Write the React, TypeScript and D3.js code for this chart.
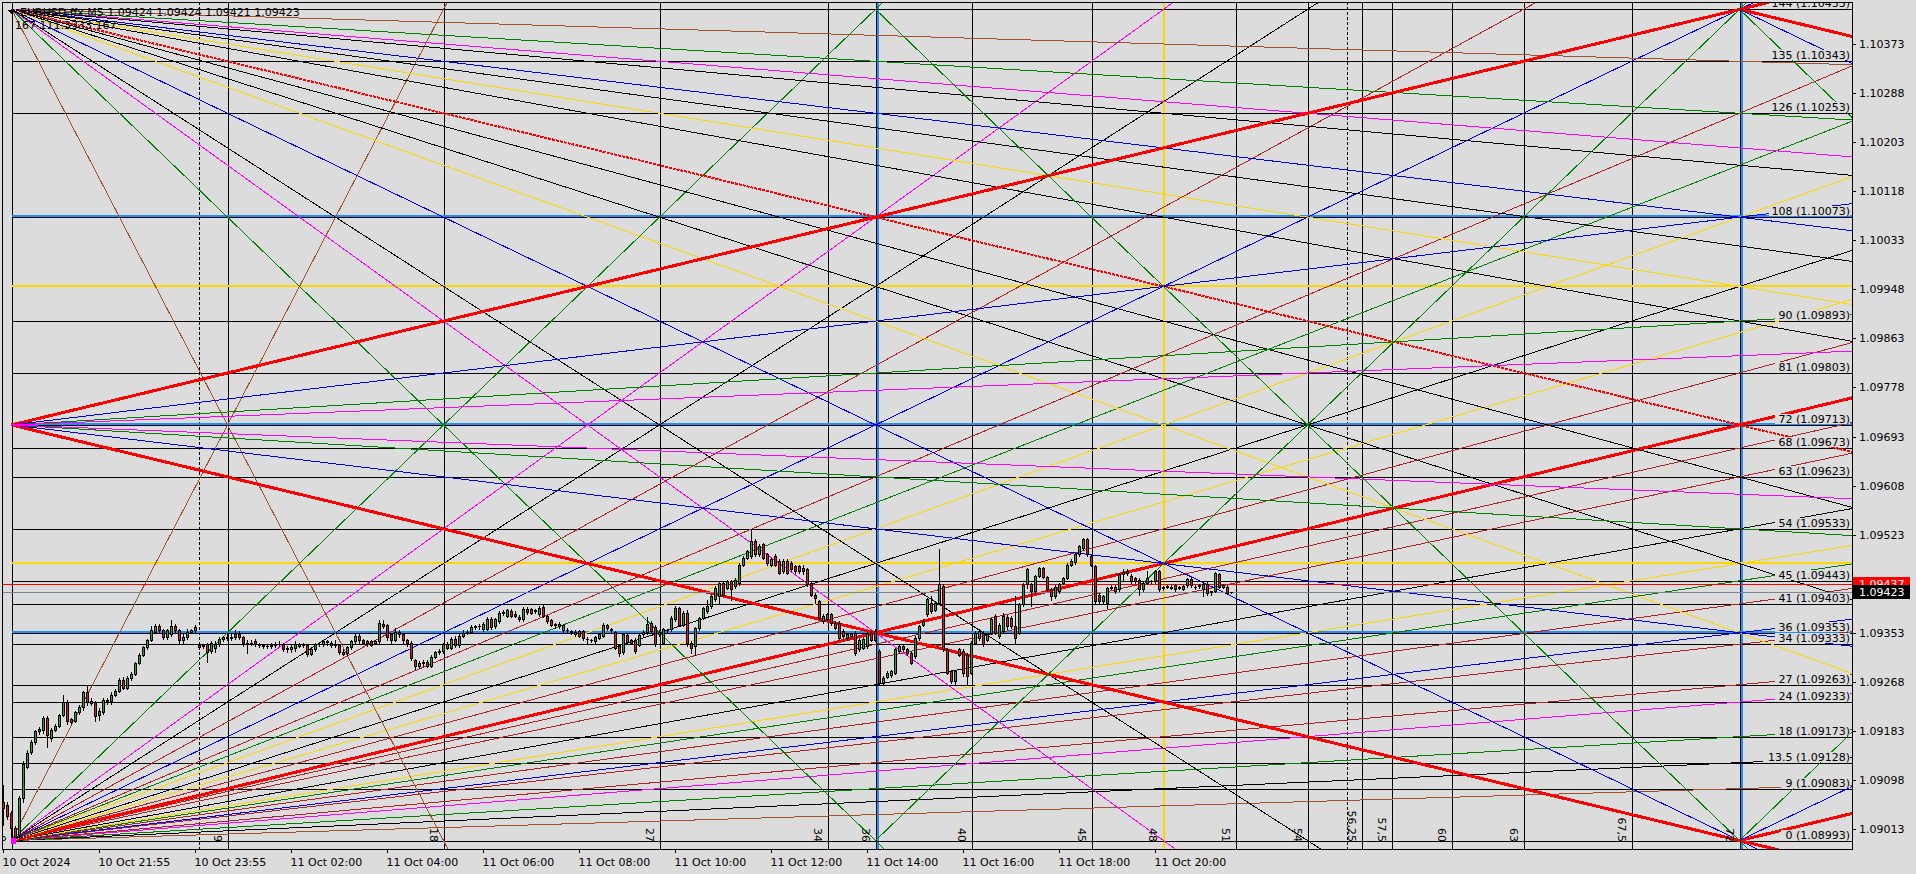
import { useEffect } from "react";
import * as d3 from "d3";

// ---------- chart data ----------
const symbolTitle = "EURUSD.ffx,M5  1.09424 1.09424 1.09421 1.09423";
const subTitle = "167  111.3333  167";
const bidPrice = 1.09423;
const askPrice = 1.09437;

const priceTicks = [
  1.10373, 1.10288, 1.10203, 1.10118, 1.10033, 1.09948, 1.09863, 1.09778,
  1.09693, 1.09608, 1.09523, 1.09353, 1.09268, 1.09183, 1.09098, 1.09013,
];

const timeTickLabels = [
  "10 Oct 2024", "10 Oct 21:55", "10 Oct 23:55", "11 Oct 02:00", "11 Oct 04:00",
  "11 Oct 06:00", "11 Oct 08:00", "11 Oct 10:00", "11 Oct 12:00", "11 Oct 14:00",
  "11 Oct 16:00", "11 Oct 18:00", "11 Oct 20:00",
];
const timeTickBars = [0, 24, 48, 72, 96, 120, 144, 168, 192, 216, 240, 264, 288];
const daySeparatorBars = [49, 336];

// gann grid: level n = base + n * step, time in grid units
const gannBase = 1.08993;
const gannStep = 0.0001;
const gannLevels = [0, 9, 13.5, 18, 24, 27, 34, 36, 41, 45, 54, 63, 68, 72, 81, 90, 108, 126, 135, 144];
const blueLevels = [36, 72, 108];
const goldLevels = [48, 96];
const gannTimes = [0, 9, 18, 27, 34, 36, 40, 45, 48, 51, 54, 56.25, 57.5, 60, 63, 67.5, 72];
const gannTimeLabels = ["0", "9", "18", "27", "34", "36", "40", "45", "48", "51", "54", "56,25", "57,5", "60", "63", "67,5", "72"];
const blueTimes = [36, 72];
const goldTimes = [48];

// fan from the bottom-left corner
const fanLevelTargets = [9, 13.5, 18, 24, 27, 34, 36, 41, 45, 48, 54, 63, 68, 72, 81, 88, 96, 108, 117, 126];
const fanLevelColors = [
  "sienna", "black", "green", "magenta", "firebrick", "firebrick", "blue", "firebrick", "green", "gold",
  "black", "firebrick", "firebrick", "red", "firebrick", "gold", "black", "gold", "green", "firebrick",
];
const fanTimeTargets = [18, 36, 48, 54, 63, 72];
const fanTimeColors = ["sienna", "green", "magenta", "black", "firebrick", "blue"];
// fan from the top-left corner (drop below the top level)
const topFanDrops = [9, 18, 24, 27, 36, 41, 48, 54, 72, 81, 96, 108];
const topFanColors = ["sienna", "green", "magenta", "black", "blue", "black", "gold", "black", "red", "black", "black", "gold"];
const topFanTimeTargets = [18, 36, 48, 54, 72];
const topFanTimeColors = ["sienna", "green", "magenta", "black", "blue"];
// fan from the middle of the left edge
const midOffsets = [72, 36, 18, 12];
const midColors = ["red", "blue", "green", "magenta"];
// angles leaving the right corners (levels per time unit)
const cornerRates = [1, 2, 4];
const cornerColors = ["red", "blue", "green"];

// candles, in points above 1.08000
const opens = [
  1060, 1055, 1040, 1015, 1003, 1067, 1121, 1147, 1163, 1182, 1185, 1205, 1170, 1185, 1192, 1210, 1233, 1203, 1200, 1215,
  1224, 1250, 1232, 1233, 1210, 1215, 1237, 1234, 1245, 1252, 1272, 1258, 1275, 1282, 1300, 1315, 1328, 1340, 1355, 1365,
  1358, 1345, 1350, 1365, 1357, 1340, 1345, 1355, 1357, 1332, 1330, 1333, 1322, 1326, 1334, 1343, 1345, 1344, 1346, 1350,
  1346, 1335, 1336, 1338, 1333, 1331, 1330, 1330, 1331, 1333, 1334, 1326, 1324, 1326, 1330, 1332, 1331, 1316, 1325, 1334,
  1334, 1338, 1336, 1332, 1332, 1320, 1318, 1328, 1338, 1348, 1340, 1338, 1338, 1336, 1338, 1368, 1366, 1350, 1340, 1355,
  1350, 1340, 1336, 1306, 1296, 1300, 1302, 1296, 1311, 1319, 1321, 1333, 1327, 1342, 1331, 1348, 1353, 1355, 1363, 1364,
  1359, 1360, 1377, 1364, 1373, 1387, 1382, 1391, 1385, 1380, 1376, 1394, 1394, 1390, 1385, 1398, 1382, 1375, 1368, 1369,
  1358, 1358, 1356, 1355, 1356, 1356, 1343, 1341, 1338, 1344, 1347, 1366, 1360, 1354, 1330, 1319, 1349, 1340, 1341, 1332,
  1350, 1354, 1370, 1363, 1350, 1335, 1357, 1359, 1376, 1396, 1367, 1388, 1335, 1330, 1361, 1379, 1391, 1399, 1411, 1416,
  1439, 1431, 1442, 1434, 1439, 1471, 1483, 1486, 1512, 1489, 1506, 1489, 1471, 1486, 1477, 1460, 1477, 1474, 1468, 1468,
  1466, 1463, 1439, 1419, 1408, 1373, 1376, 1385, 1370, 1370, 1356, 1344, 1347, 1353, 1324, 1327, 1330, 1353, 1356, 1321,
  1266, 1277, 1280, 1284, 1321, 1330, 1324, 1318, 1313, 1344, 1367, 1385, 1405, 1393, 1405, 1434, 1324, 1286, 1269, 1324,
  1321, 1315, 1284, 1335, 1344, 1353, 1341, 1353, 1382, 1347, 1356, 1380, 1379, 1364, 1353, 1402, 1437, 1437, 1425, 1451,
  1465, 1450, 1428, 1416, 1425, 1440, 1448, 1471, 1475, 1489, 1500, 1515, 1486, 1468, 1419, 1408, 1405, 1431, 1433, 1428,
  1454, 1460, 1452, 1448, 1445, 1428, 1439, 1442, 1442, 1460, 1432, 1432, 1433, 1435, 1431, 1429, 1435, 1446, 1432, 1434,
  1428, 1438, 1425, 1425, 1454, 1433, 1433, 1423,
];
const highs = [
  1090, 1060, 1045, 1018, 1070, 1130, 1150, 1168, 1185, 1190, 1208, 1208, 1188, 1195, 1212, 1245, 1236, 1205, 1218, 1227,
  1252, 1260, 1240, 1235, 1222, 1240, 1240, 1250, 1255, 1275, 1276, 1278, 1285, 1302, 1318, 1330, 1342, 1365, 1368, 1368,
  1360, 1360, 1375, 1368, 1360, 1352, 1360, 1360, 1366, 1335, 1334, 1335, 1338, 1338, 1346, 1348, 1350, 1350, 1358, 1356,
  1348, 1340, 1340, 1342, 1336, 1334, 1333, 1335, 1337, 1338, 1336, 1330, 1332, 1338, 1336, 1335, 1334, 1328, 1336, 1337,
  1340, 1340, 1338, 1340, 1334, 1324, 1330, 1340, 1352, 1352, 1343, 1340, 1341, 1341, 1375, 1375, 1368, 1353, 1362, 1358,
  1352, 1342, 1338, 1308, 1304, 1306, 1305, 1314, 1322, 1325, 1336, 1337, 1345, 1348, 1350, 1357, 1358, 1366, 1367, 1368,
  1372, 1380, 1380, 1378, 1390, 1392, 1395, 1394, 1390, 1383, 1397, 1398, 1396, 1394, 1400, 1402, 1384, 1377, 1370, 1371,
  1368, 1361, 1358, 1357, 1358, 1358, 1345, 1343, 1348, 1352, 1370, 1368, 1362, 1356, 1332, 1353, 1352, 1343, 1344, 1352,
  1357, 1380, 1373, 1366, 1357, 1362, 1360, 1382, 1400, 1398, 1390, 1393, 1338, 1363, 1381, 1398, 1410, 1418, 1434, 1441,
  1441, 1445, 1445, 1447, 1473, 1486, 1497, 1532, 1515, 1506, 1509, 1492, 1483, 1489, 1480, 1480, 1480, 1477, 1471, 1471,
  1470, 1466, 1442, 1422, 1410, 1385, 1388, 1388, 1373, 1373, 1359, 1353, 1353, 1356, 1344, 1345, 1356, 1356, 1359, 1324,
  1278, 1286, 1289, 1327, 1333, 1333, 1327, 1321, 1347, 1367, 1376, 1414, 1416, 1408, 1498, 1437, 1327, 1289, 1289, 1327,
  1324, 1318, 1338, 1356, 1359, 1356, 1353, 1379, 1385, 1370, 1388, 1384, 1382, 1416, 1405, 1440, 1466, 1440, 1453, 1467,
  1467, 1452, 1430, 1436, 1440, 1450, 1473, 1480, 1491, 1505, 1517, 1518, 1488, 1470, 1421, 1418, 1433, 1436, 1436, 1456,
  1463, 1463, 1455, 1450, 1447, 1441, 1460, 1445, 1462, 1462, 1434, 1436, 1435, 1437, 1434, 1436, 1448, 1448, 1435, 1437,
  1441, 1441, 1426, 1458, 1456, 1437, 1435, 1424,
];
const lows = [
  1020, 1030, 1000, 995, 998, 1060, 1118, 1143, 1160, 1178, 1180, 1155, 1165, 1182, 1190, 1208, 1195, 1195, 1198, 1212,
  1220, 1228, 1228, 1200, 1202, 1212, 1230, 1230, 1243, 1250, 1255, 1255, 1272, 1280, 1298, 1312, 1325, 1338, 1352, 1355,
  1342, 1342, 1348, 1352, 1336, 1335, 1342, 1352, 1355, 1325, 1326, 1303, 1318, 1320, 1330, 1338, 1340, 1340, 1342, 1343,
  1330, 1318, 1332, 1330, 1328, 1327, 1326, 1327, 1329, 1330, 1322, 1320, 1320, 1322, 1328, 1328, 1312, 1314, 1322, 1330,
  1330, 1332, 1328, 1329, 1317, 1314, 1315, 1325, 1336, 1336, 1333, 1330, 1330, 1333, 1335, 1362, 1340, 1335, 1338, 1346,
  1336, 1330, 1305, 1290, 1292, 1296, 1293, 1294, 1309, 1317, 1318, 1324, 1325, 1328, 1329, 1345, 1350, 1352, 1360, 1360,
  1356, 1358, 1360, 1361, 1370, 1384, 1380, 1380, 1380, 1374, 1374, 1386, 1386, 1387, 1382, 1380, 1370, 1364, 1362, 1362,
  1355, 1354, 1350, 1347, 1345, 1341, 1335, 1337, 1335, 1342, 1345, 1358, 1353, 1325, 1312, 1316, 1334, 1333, 1318, 1330,
  1347, 1351, 1353, 1330, 1348, 1333, 1354, 1356, 1373, 1364, 1364, 1330, 1318, 1315, 1358, 1376, 1388, 1396, 1408, 1405,
  1416, 1428, 1410, 1431, 1436, 1469, 1480, 1483, 1486, 1486, 1480, 1471, 1468, 1468, 1454, 1457, 1454, 1460, 1457, 1457,
  1455, 1434, 1416, 1405, 1376, 1370, 1373, 1367, 1359, 1341, 1344, 1341, 1344, 1315, 1321, 1324, 1327, 1338, 1338, 1263,
  1263, 1274, 1277, 1281, 1318, 1321, 1315, 1298, 1310, 1341, 1364, 1382, 1388, 1390, 1402, 1321, 1281, 1266, 1263, 1312,
  1278, 1263, 1281, 1333, 1341, 1330, 1338, 1350, 1350, 1344, 1353, 1360, 1362, 1333, 1350, 1400, 1430, 1400, 1422, 1449,
  1447, 1425, 1410, 1413, 1422, 1438, 1446, 1468, 1472, 1486, 1497, 1486, 1468, 1405, 1405, 1405, 1396, 1428, 1422, 1425,
  1445, 1453, 1440, 1440, 1419, 1426, 1437, 1439, 1440, 1425, 1427, 1430, 1429, 1426, 1428, 1427, 1433, 1432, 1429, 1430,
  1416, 1419, 1419, 1423, 1430, 1430, 1420, 1421,
];
const closes = [
  1050, 1035, 1015, 1000, 1067, 1125, 1145, 1163, 1182, 1187, 1205, 1175, 1185, 1192, 1210, 1233, 1200, 1198, 1215, 1224,
  1250, 1233, 1235, 1208, 1218, 1237, 1234, 1245, 1252, 1272, 1258, 1275, 1282, 1300, 1315, 1328, 1340, 1357, 1365, 1358,
  1345, 1357, 1365, 1357, 1340, 1345, 1355, 1357, 1363, 1328, 1332, 1320, 1336, 1334, 1343, 1345, 1344, 1346, 1350, 1346,
  1335, 1336, 1336, 1333, 1331, 1330, 1330, 1331, 1333, 1334, 1324, 1324, 1328, 1334, 1333, 1331, 1316, 1325, 1334, 1334,
  1338, 1337, 1332, 1333, 1320, 1316, 1328, 1338, 1348, 1340, 1336, 1336, 1332, 1338, 1370, 1364, 1345, 1340, 1355, 1350,
  1340, 1335, 1310, 1296, 1300, 1302, 1296, 1311, 1319, 1321, 1333, 1327, 1342, 1331, 1348, 1353, 1355, 1363, 1364, 1364,
  1369, 1377, 1363, 1376, 1387, 1389, 1392, 1382, 1382, 1376, 1394, 1389, 1388, 1392, 1396, 1382, 1374, 1367, 1366, 1365,
  1366, 1357, 1354, 1350, 1347, 1344, 1342, 1341, 1345, 1350, 1367, 1361, 1357, 1327, 1318, 1350, 1337, 1336, 1321, 1349,
  1354, 1369, 1356, 1334, 1354, 1359, 1358, 1379, 1396, 1367, 1388, 1335, 1327, 1361, 1379, 1396, 1399, 1416, 1431, 1439,
  1419, 1442, 1428, 1445, 1471, 1483, 1494, 1512, 1489, 1503, 1483, 1474, 1480, 1471, 1457, 1477, 1457, 1463, 1460, 1460,
  1460, 1437, 1419, 1413, 1379, 1382, 1385, 1370, 1362, 1344, 1347, 1350, 1350, 1318, 1341, 1342, 1353, 1341, 1341, 1266,
  1275, 1283, 1286, 1324, 1330, 1324, 1318, 1301, 1344, 1364, 1373, 1411, 1390, 1405, 1437, 1324, 1284, 1269, 1286, 1315,
  1284, 1278, 1335, 1353, 1356, 1333, 1350, 1376, 1353, 1367, 1382, 1364, 1365, 1344, 1402, 1436, 1463, 1425, 1451, 1465,
  1450, 1428, 1416, 1433, 1437, 1448, 1471, 1477, 1489, 1503, 1515, 1489, 1471, 1408, 1408, 1416, 1431, 1433, 1425, 1454,
  1458, 1456, 1442, 1442, 1428, 1439, 1448, 1442, 1460, 1428, 1430, 1434, 1431, 1428, 1432, 1434, 1446, 1435, 1433, 1435,
  1438, 1422, 1424, 1456, 1432, 1435, 1422, 1423,
];

// ---------- styling ----------
const BG = "#dcdcdc";
const FONT = "'DejaVu Sans', Tahoma, sans-serif";
const COLORS: Record<string, string> = {
  sienna: "#a0522d",
  green: "#008000",
  magenta: "#ff00ff",
  black: "#000000",
  blue: "#0000ff",
  firebrick: "#b22222",
  gold: "#ffd700",
  red: "#ff0000",
  dodger: "#1e90ff",
};
const BULL = "#2f9e2f";
const BEAR = "#e01818";

type Ray = { t0: number; l0: number; t1: number; l1: number; col: string; w: number; dash?: string };

export default function App() {
  useEffect(() => {
    document.body.style.margin = "0";
    document.body.style.background = BG;
  }, []);

  const W = 1916;
  const H = 874;
  const frame = { l: 2, t: 2, r: 1852, b: 849 };

  const n = closes.length;
  const xBar = d3.scaleLinear().domain([0, n - 1]).range([3, 3 + 4 * (n - 1)]);
  const xGann = d3.scaleLinear().domain([0, 72]).range([11.5, 1739.5]);
  const yPrice = d3.scaleLinear().domain([1.09013, 1.10373]).range([829, 44]);
  const pt = (v: number) => 1.08 + v / 1e5;
  const lvPrice = (l: number) => gannBase + l * gannStep;
  const yL = (l: number) => yPrice(lvPrice(l));
  const crisp = (v: number) => Math.round(v) + 0.5;

  // build gann rays
  const rays: Ray[] = [];
  fanLevelTargets.forEach((L, i) => {
    const col = fanLevelColors[i];
    rays.push({ t0: 0, l0: 0, t1: 72, l1: L, col, w: col === "red" ? 3 : 1 });
  });
  fanTimeTargets.forEach((T, i) => {
    rays.push({ t0: 0, l0: 0, t1: T, l1: 144, col: fanTimeColors[i], w: 1 });
  });
  topFanDrops.forEach((d, i) => {
    const col = topFanColors[i];
    const isRed = col === "red";
    rays.push({ t0: 0, l0: 144, t1: 72, l1: 144 - d, col, w: isRed ? 2 : 1, dash: isRed ? "3 1" : undefined });
  });
  topFanTimeTargets.forEach((T, i) => {
    rays.push({ t0: 0, l0: 144, t1: T, l1: 0, col: topFanTimeColors[i], w: 1 });
  });
  midOffsets.forEach((d, i) => {
    const col = midColors[i];
    const w = col === "red" ? 3 : 1;
    rays.push({ t0: 0, l0: 72, t1: 72, l1: 72 + d, col, w });
    rays.push({ t0: 0, l0: 72, t1: 72, l1: 72 - d, col, w });
  });
  cornerRates.forEach((r, i) => {
    const col = cornerColors[i];
    const w = col === "red" ? 3 : 1;
    rays.push({ t0: 72, l0: 144, t1: 72 + 72 / r, l1: 72, col, w });
    rays.push({ t0: 72, l0: 0, t1: 72 + 72 / r, l1: 72, col, w });
  });
  rays.push({ t0: 36, l0: 0, t1: 72, l1: 144, col: "green", w: 1 });
  rays.push({ t0: 36, l0: 144, t1: 72, l1: 0, col: "green", w: 1 });

  const K = 4;

  return (
    <div style={{ position: "fixed", left: 0, top: 0, width: W, height: H, background: BG }}>
      <svg width={W} height={H} style={{ display: "block", fontFamily: FONT }} shapeRendering="crispEdges">
        <defs>
          <clipPath id="plot">
            <rect x={frame.l + 1} y={frame.t + 1} width={frame.r - frame.l - 1} height={frame.b - frame.t - 1} />
          </clipPath>
          <clipPath id="askclip">
            <rect x={frame.r} y={0} width={70} height={Math.round(yPrice(bidPrice)) - 7} />
          </clipPath>
        </defs>
        <rect x={0} y={0} width={W} height={H} fill={BG} />

        <g clipPath="url(#plot)">
          {/* vertical time lines */}
          {gannTimes.map((t) => (
            <line key={"vt" + t} x1={crisp(xGann(t))} x2={crisp(xGann(t))} y1={frame.t} y2={frame.b} stroke="#000" strokeWidth={1} />
          ))}
          {blueTimes.map((t) => (
            <line key={"vb" + t} x1={Math.round(xGann(t)) + 2} x2={Math.round(xGann(t)) + 2} y1={frame.t} y2={frame.b} stroke={COLORS.dodger} strokeWidth={2} />
          ))}
          {goldTimes.map((t) => (
            <line key={"vg" + t} x1={Math.round(xGann(t)) + 1} x2={Math.round(xGann(t)) + 1} y1={frame.t} y2={frame.b} stroke={COLORS.gold} strokeWidth={2} />
          ))}
          {daySeparatorBars.map((b) => (
            <line key={"ds" + b} x1={crisp(xBar(b) - 0.5)} x2={crisp(xBar(b) - 0.5)} y1={frame.t} y2={frame.b} stroke="#000" strokeDasharray="3 2" />
          ))}

          {/* horizontal gann levels */}
          {gannLevels.map((l) => (
            <line key={"hl" + l} x1={xGann(0)} x2={frame.r} y1={crisp(yL(l))} y2={crisp(yL(l))} stroke="#000" />
          ))}
          {blueLevels.map((l) => (
            <line key={"hb" + l} x1={xGann(0)} x2={frame.r} y1={Math.round(yL(l)) - 1} y2={Math.round(yL(l)) - 1} stroke={COLORS.dodger} strokeWidth={2} />
          ))}
          {goldLevels.map((l) => (
            <line key={"hg" + l} x1={xGann(0)} x2={frame.r} y1={Math.round(yL(l))} y2={Math.round(yL(l))} stroke={COLORS.gold} strokeWidth={2} />
          ))}

          {/* gann angle rays */}
          {rays.map((r, i) => (
            <line
              key={"ray" + i}
              x1={xGann(r.t0)}
              y1={yL(r.l0)}
              x2={xGann(r.t0 + (r.t1 - r.t0) * K)}
              y2={yL(r.l0 + (r.l1 - r.l0) * K)}
              stroke={COLORS[r.col]}
              strokeWidth={r.w}
              strokeDasharray={r.dash}
            />
          ))}

          {/* bid / ask lines */}
          <line x1={frame.l} x2={frame.r} y1={crisp(yPrice(askPrice))} y2={crisp(yPrice(askPrice))} stroke="#ff0000" />
          <line x1={frame.l} x2={frame.r} y1={crisp(yPrice(bidPrice))} y2={crisp(yPrice(bidPrice))} stroke="#778899" />

          {/* candles */}
          {closes.map((c, i) => {
            const cx = Math.round(xBar(i));
            const yo = Math.round(yPrice(pt(opens[i])));
            const yc = Math.round(yPrice(pt(c)));
            const yh = Math.round(yPrice(pt(highs[i])));
            const yl = Math.round(yPrice(pt(lows[i])));
            const top = Math.min(yo, yc);
            const bot = Math.max(yo, yc);
            const h = bot - top + 1;
            const fill = c > opens[i] ? BULL : BEAR;
            return (
              <g key={"c" + i}>
                <line x1={cx + 0.5} x2={cx + 0.5} y1={yh} y2={yl + 1} stroke="#000" />
                <rect x={cx - 1} y={top} width={3} height={h} fill="#000" />
                {h > 2 && <rect x={cx} y={top + 1} width={1} height={h - 2} fill={fill} />}
              </g>
            );
          })}

          {/* magenta anchor at origin */}
          <rect x={Math.round(xGann(0)) - 1} y={Math.round(yL(0)) - 3} width={5} height={6} fill={COLORS.magenta} />

          {/* level labels */}
          {gannLevels.map((l) => {
            const txt = `${l} (${lvPrice(l).toFixed(5)})`;
            const w = txt.length * 6.1 + 2;
            const yb = Math.round(yL(l)) - 2;
            return (
              <g key={"lab" + l}>
                <rect x={frame.r - 2 - w} y={yb - 9} width={w} height={10} fill={BG} />
                <text x={frame.r - 2} y={yb} textAnchor="end" fontSize={11} fill="#000" shapeRendering="auto">
                  {txt}
                </text>
              </g>
            );
          })}

          {/* time count labels */}
          {gannTimes.map((t, i) => (
            <text
              key={"tl" + t}
              transform={`translate(${Math.round(xGann(t)) - 14},${Math.round(yL(0)) + 1}) rotate(90)`}
              textAnchor="end"
              fontSize={11}
              fill="#000"
            >
              {gannTimeLabels[i]}
            </text>
          ))}

          {/* header */}
          <polygon points="7,10 15,10 11,14" fill="#000" />
          <text x={20} y={16} fontSize={11} fill="#000">{symbolTitle}</text>
          <text x={15} y={29} fontSize={11} fill="#000">{subTitle}</text>
        </g>

        {/* frame */}
        <rect x={frame.l + 0.5} y={frame.t + 0.5} width={frame.r - frame.l} height={frame.b - frame.t} fill="none" stroke="#000" />

        {/* price axis */}
        {priceTicks.map((p) => {
          const y = crisp(yPrice(p));
          return (
            <g key={"pt" + p}>
              <line x1={frame.r} x2={frame.r + 4} y1={y} y2={y} stroke="#000" />
              <text x={frame.r + 7} y={y} dy="0.35em" fontSize={11} fill="#000">
                {p.toFixed(5)}
              </text>
            </g>
          );
        })}
        <g clipPath="url(#askclip)">
          <rect x={frame.r + 1} y={Math.round(yPrice(askPrice)) - 7} width={57} height={14} fill="#ff0000" />
          <text x={frame.r + 7} y={Math.round(yPrice(askPrice))} dy="0.35em" fontSize={11} fill="#fff">
            {askPrice.toFixed(5)}
          </text>
        </g>
        <rect x={frame.r + 1} y={Math.round(yPrice(bidPrice)) - 7} width={57} height={14} fill="#000" />
        <text x={frame.r + 7} y={Math.round(yPrice(bidPrice))} dy="0.35em" fontSize={11} fill="#fff">
          {bidPrice.toFixed(5)}
        </text>

        {/* time axis */}
        {timeTickBars.map((b, i) => {
          const x = crisp(xBar(b));
          return (
            <g key={"tt" + b}>
              <line x1={x} x2={x} y1={frame.b} y2={frame.b + 4} stroke="#000" />
              <text x={x - 1} y={866} fontSize={11} fill="#000">
                {timeTickLabels[i]}
              </text>
            </g>
          );
        })}
      </svg>
    </div>
  );
}
